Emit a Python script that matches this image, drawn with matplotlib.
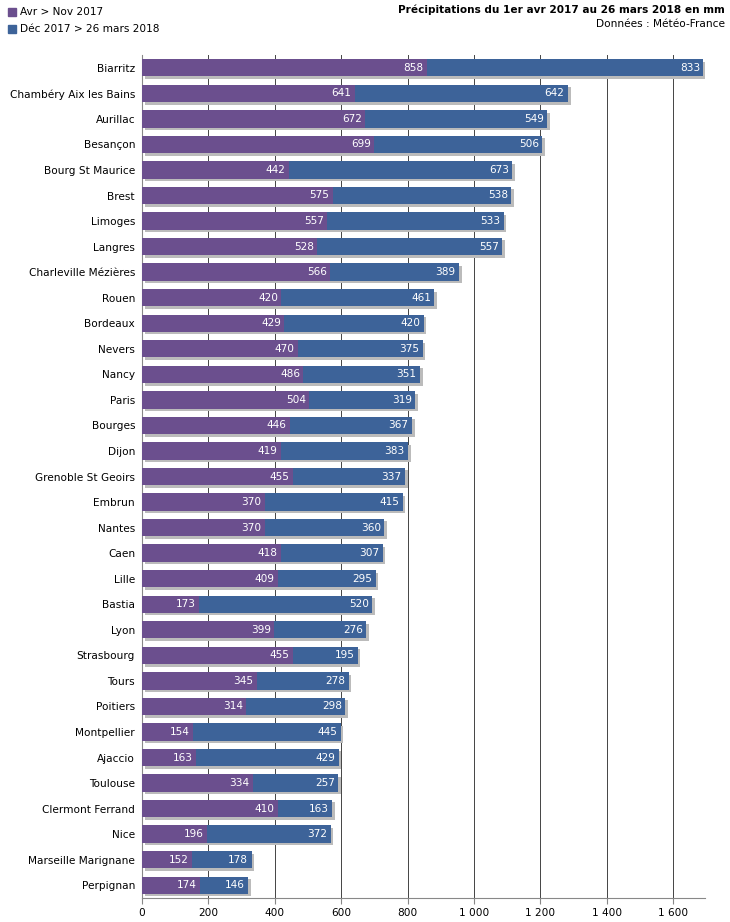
import matplotlib
matplotlib.use("Agg")
import matplotlib.pyplot as plt

cities = ["Biarritz","Chambéry Aix les Bains","Aurillac","Besançon","Bourg St Maurice","Brest","Limoges","Langres",
"Charleville Mézières","Rouen","Bordeaux","Nevers","Nancy","Paris","Bourges","Dijon","Grenoble St Geoirs","Embrun",
"Nantes","Caen","Lille","Bastia","Lyon","Strasbourg","Tours","Poitiers","Montpellier","Ajaccio","Toulouse",
"Clermont Ferrand","Nice","Marseille Marignane","Perpignan"]
avr_nov = [858,641,672,699,442,575,557,528,566,420,429,470,486,504,446,419,455,370,370,418,409,173,399,455,345,314,154,163,334,410,196,152,174]
dec_mar = [833,642,549,506,673,538,533,557,389,461,420,375,351,319,367,383,337,415,360,307,295,520,276,195,278,298,445,429,257,163,372,178,146]
xticks = [0,200,400,600,800,1000,1200,1400,1600]
xticklabels = ["0","200","400","600","800","1 000","1 200","1 400","1 600"]

fs = 7.6
c1, c2 = "#6b4f8e", "#3d6399"
fig = plt.figure(figsize=(7.3,9.22), dpi=100)
ax = fig.add_axes([142/730, 24/922, 563/730, 843/922])
y = list(range(len(cities)))
h = 0.68
tot = [a+b for a,b in zip(avr_nov, dec_mar)]
ax.barh([v+0.1 for v in y], tot, height=h, left=8, color="#bbbbbb", zorder=2)
ax.barh(y, avr_nov, height=h, color=c1, zorder=3)
ax.barh(y, dec_mar, left=avr_nov, height=h, color=c2, zorder=3)
for i,(a,b) in enumerate(zip(avr_nov, dec_mar)):
    ax.text(a-10, i, str(a), color="white", ha="right", va="center", fontsize=fs, zorder=4)
    ax.text(a+b-10, i, str(b), color="white", ha="right", va="center", fontsize=fs, zorder=4)
ax.set_ylim(len(cities)-0.5, -0.5)
ax.set_xlim(0, 1696)
ax.set_yticks(y)
ax.set_yticklabels(cities, fontsize=fs)
ax.set_xticks(xticks)
ax.set_xticklabels(xticklabels, fontsize=fs)
ax.grid(axis="x", color="#444444", linewidth=0.7, zorder=0)
ax.set_axisbelow(True)
for s in ["top","right"]:
    ax.spines[s].set_visible(False)
ax.spines["left"].set_color("#888888")
ax.spines["bottom"].set_color("#888888")
ax.tick_params(axis="y", length=0, pad=5)
ax.tick_params(axis="x", length=4, color="#888888")

fig.patches.append(plt.Rectangle((8/730, 1-16/922), 8/730, 8/922, color=c1, transform=fig.transFigure))
fig.patches.append(plt.Rectangle((8/730, 1-33/922), 8/730, 8/922, color=c2, transform=fig.transFigure))
fig.text(20/730, 1-12/922, "Avr > Nov 2017", fontsize=fs, va="center")
fig.text(20/730, 1-29/922, "Déc 2017 > 26 mars 2018", fontsize=fs, va="center")
fig.text(725/730, 1-10/922, "Précipitations du 1er avr 2017 au 26 mars 2018 en mm", fontsize=fs, ha="right", va="center", fontweight="bold")
fig.text(725/730, 1-24/922, "Données : Météo-France", fontsize=fs, ha="right", va="center")
fig.savefig("out.png", dpi=100)
